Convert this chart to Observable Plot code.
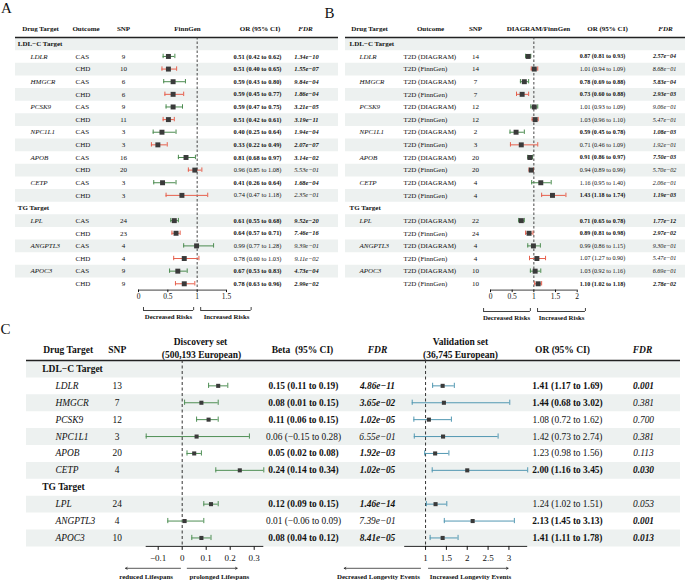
<!DOCTYPE html>
<html><head><meta charset="utf-8">
<script src="https://cdn.jsdelivr.net/npm/d3@7"></script>
<script src="https://cdn.jsdelivr.net/npm/@observablehq/plot@0.6"></script>
<style>
html,body{margin:0;padding:0;background:#fff;}
#wrap{position:relative;width:685px;height:581px;overflow:hidden;background:#fff;}
#wrap svg{position:absolute;left:0;top:0;background:transparent !important;}
</style></head><body><div id="wrap"></div>
<script>
// ---------- shared categories ----------
const groupLabels = ["LDL−C Target", "TG Target"];
const ldlGenes = ["LDLR", "HMGCR", "PCSK9", "NPC1L1", "APOB", "CETP"];
const tgGenes = ["LPL", "ANGPTL3", "APOC3"];

// ---------- Panel A (FinnGen) ----------
const aOutcomes = ["CAS", "CHD"];
const aSnp = [9, 10, 6, 6, 9, 11, 3, 3, 16, 20, 3, 3, 24, 23, 4, 4, 9, 9];
const aOR  = [0.51, 0.51, 0.59, 0.59, 0.59, 0.51, 0.40, 0.33, 0.81, 0.96, 0.41, 0.74, 0.61, 0.64, 0.99, 0.78, 0.67, 0.78];
const aLo  = [0.42, 0.40, 0.43, 0.45, 0.47, 0.42, 0.25, 0.22, 0.68, 0.85, 0.26, 0.47, 0.55, 0.57, 0.77, 0.60, 0.53, 0.63];
const aHi  = [0.62, 0.65, 0.80, 0.77, 0.75, 0.61, 0.64, 0.49, 0.97, 1.08, 0.64, 1.18, 0.68, 0.71, 1.28, 1.03, 0.83, 0.96];
const aFdr = ["1.34e−10","1.55e−07","9.84e−04","1.86e−04","3.21e−05","3.19e−11","1.94e−04","2.07e−07","3.14e−02","5.53e−01","1.68e−04","2.35e−01","9.52e−20","7.46e−16","9.39e−01","9.11e−02","4.73e−04","2.99e−02"];
const aTicks = [0, 0.5, 1, 1.5];

// ---------- Panel B (DIAGRAM / FinnGen) ----------
const bOutcomes = ["T2D (DIAGRAM)", "T2D (FinnGen)"];
const bSnp = [14, 14, 7, 7, 12, 12, 2, 3, 20, 20, 4, 4, 22, 24, 4, 4, 10, 10];
const bOR  = [0.87, 1.01, 0.78, 0.73, 1.01, 1.03, 0.59, 0.71, 0.91, 0.94, 1.16, 1.43, 0.71, 0.89, 0.99, 1.07, 1.03, 1.10];
const bLo  = [0.81, 0.94, 0.69, 0.60, 0.93, 0.96, 0.45, 0.46, 0.86, 0.89, 0.95, 1.18, 0.65, 0.81, 0.86, 1.27, 0.92, 1.02];
const bHi  = [0.93, 1.09, 0.88, 0.88, 1.09, 1.10, 0.78, 1.09, 0.97, 0.99, 1.40, 1.74, 0.78, 0.98, 1.15, 0.90, 1.16, 1.18];
const bFdr = ["2.57e−04","8.68e−01","5.83e−04","2.93e−03","9.06e−01","5.47e−01","1.08e−03","1.92e−01","7.50e−03","5.70e−02","2.06e−01","1.19e−03","1.77e−12","2.97e−02","9.30e−01","5.47e−01","6.69e−01","2.78e−02"];
const bTicks = [0, 0.5, 1, 1.5, 2];

// ---------- Panel C (lifespan) ----------
const cSnp = [13, 7, 12, 3, 20, 4, 24, 4, 10];
const cBeta   = [0.15, 0.08, 0.11, 0.06, 0.05, 0.24, 0.12, 0.01, 0.08];
const cBetaLo = [0.11, 0.01, 0.06, -0.15, 0.02, 0.14, 0.09, -0.06, 0.04];
const cBetaHi = [0.19, 0.15, 0.15, 0.28, 0.08, 0.34, 0.15, 0.09, 0.12];
const cBetaFdr = ["4.86e−11","3.65e−02","1.02e−05","6.55e−01","1.92e−03","1.02e−05","1.46e−14","7.39e−01","8.41e−05"];
const cOR   = [1.41, 1.44, 1.08, 1.42, 1.23, 2.00, 1.24, 2.13, 1.41];
const cORLo = [1.17, 0.68, 0.72, 0.73, 0.98, 1.16, 1.02, 1.45, 1.11];
const cORHi = [1.69, 3.02, 1.62, 2.74, 1.56, 3.45, 1.51, 3.13, 1.78];
const cORFdr = ["0.001","0.381","0.700","0.381","0.113","0.030","0.053","0.001","0.013"];
const cORBold = [true, true, false, false, false, true, false, true, true];
const cTicksD = [-0.1, 0, 0.1, 0.2, 0.3];
const cTicksV = [1, 1.5, 2, 2.5, 3];

const riskText = ["Decreased Risks", "Increased Risks"];
const lifeText = ["reduced Lifespans", "prolonged Lifespans"];
const longText = ["Decreased Longevity Events", "Increased Longevity Events"];

// ---------- helpers ----------
const W = 685, H = 581;
const serif = '"Liberation Serif", "Times New Roman", serif';
const stripe = "#edf1f0", ink = "#111", boxFill = "#3a3a3a";
const green = "#4b8b4f", red = "#e6604d", teal = "#5298b2";
const fmt2 = d3.format(".2f");
const isSig = s => +s.replace("−", "-") < 0.05;

function buildTable(outcomes, snp, est, lo, hi, fdr) {
  const heads = [], rows = [];
  let r = 0, k = 0;
  [ldlGenes, tgGenes].forEach((genes, g) => {
    heads.push({row: r++, label: groupLabels[g]});
    genes.forEach(gene => outcomes.forEach((o, j) => {
      rows.push({row: r++, k, gene: j === 0 ? gene : "", outcome: o, series: j,
        snp: snp[k], est: est[k], lo: lo[k], hi: hi[k], fdr: fdr[k],
        ci: `${fmt2(est[k])} (${fmt2(lo[k])} to ${fmt2(hi[k])})`, sig: isSig(fdr[k])});
      k++;
    }));
  });
  return {heads, rows, n: r};
}

function forest(rows, color, capRows, r, ex = "est", lx = "lo", hx = "hi") {
  return [
    Plot.ruleY(rows, {y: "row", x1: lx, x2: hx, stroke: color, strokeWidth: 1}),
    Plot.ruleX(rows, {x: lx, y1: d => d.row - capRows, y2: d => d.row + capRows, stroke: color, strokeWidth: 1}),
    Plot.ruleX(rows, {x: hx, y1: d => d.row - capRows, y2: d => d.row + capRows, stroke: color, strokeWidth: 1}),
    Plot.dot(rows, {x: ex, y: "row", symbol: "square", r, fill: boxFill, stroke: "none"})
  ];
}

function frameFor(L, n) {
  const ML = L.left, MR = W - L.right, MT = L.top, bottom = L.top + n * L.step, MB = H - bottom;
  const col = (x, o) => ({frameAnchor: "left", dx: x - ML, lineAnchor: "middle", fill: ink, ...o});
  const hdr = (label, x, y, o = {}) => Plot.text([label], {frameAnchor: "top-left", dx: x - ML, dy: y - MT,
    text: d => d, lineAnchor: "middle", textAnchor: "middle", fontWeight: "bold", fontSize: L.fsh, fill: ink, ...o});
  const pxRow = px => (px - (L.top + L.step / 2)) / L.step;
  return {ML, MR, MT, MB, bottom, col, hdr, pxRow};
}

// ---------- Panels A and B ----------
function abPanel(t, L) {
  const F = frameFor(L, t.n);
  const even = d3.range(0, t.n, 2);
  const yB = F.pxRow(L.bracketY);
  const ends = L.riskSpans.flat();
  const marks = [
    Plot.ruleY(even, {y: d => d, stroke: stripe, strokeWidth: L.step}),
    Plot.ruleY([-0.5], {stroke: "#222", strokeWidth: 1.3}),
    Plot.ruleY([t.n - 0.5], {x1: () => L.xDomain[0], x2: () => L.xDomain[1], stroke: ink, strokeWidth: 0.8}),
    Plot.ruleX([1], {stroke: "#333", strokeDasharray: "2.5,2", strokeWidth: 0.9}),
    Plot.text([L.letter], {frameAnchor: "top-left", dx: L.letterX - F.ML, dy: L.letterY - F.MT, text: d => d,
      textAnchor: "middle", lineAnchor: "middle", fontSize: 15, fill: ink}),
    F.hdr("Drug Target", L.cols.targetH, L.headY),
    F.hdr("Outcome", L.cols.outH, L.headY),
    F.hdr("SNP", L.cols.snp, L.headY),
    F.hdr(L.forestTitle, L.cols.forestH, L.headY),
    F.hdr("OR (95% CI)", L.cols.ciH, L.headY),
    F.hdr("FDR", L.cols.fdrH, L.headY, {fontStyle: "italic"}),
    Plot.text(t.heads, F.col(L.cols.group, {y: "row", text: "label", textAnchor: "start", fontWeight: "bold", fontSize: L.fsh})),
    Plot.text(t.rows.filter(d => d.gene), F.col(L.cols.gene, {y: "row", text: "gene", textAnchor: "start", fontStyle: "italic", fontSize: L.fs})),
    Plot.text(t.rows, F.col(L.cols.out, {y: "row", text: "outcome", textAnchor: "start", fontSize: L.fs})),
    Plot.text(t.rows, F.col(L.cols.snp, {y: "row", text: "snp", textAnchor: "middle", fontSize: L.fs})),
    Plot.text(t.rows.filter(d => d.sig), F.col(L.cols.ci, {y: "row", text: "ci", textAnchor: "middle", fontWeight: "bold", fontSize: L.fsv})),
    Plot.text(t.rows.filter(d => !d.sig), F.col(L.cols.ci, {y: "row", text: "ci", textAnchor: "middle", fontSize: L.fsv})),
    Plot.text(t.rows.filter(d => d.sig), F.col(L.cols.fdr, {y: "row", text: "fdr", textAnchor: "middle", fontWeight: "bold", fontStyle: "italic", fontSize: L.fsv})),
    Plot.text(t.rows.filter(d => !d.sig), F.col(L.cols.fdr, {y: "row", text: "fdr", textAnchor: "middle", fontStyle: "italic", fontSize: L.fsv})),
    ...forest(t.rows.filter(d => d.series === 0), L.colors[0], 2.2 / L.step, 2.8),
    ...forest(t.rows.filter(d => d.series === 1), L.colors[1], 2.2 / L.step, 2.8),
    Plot.ruleY(L.riskSpans, {x1: d => d[0], x2: d => d[1], y: () => yB, stroke: ink, strokeWidth: 0.8}),
    Plot.ruleX(ends, {x: d => d, y1: () => yB, y2: () => yB - 3 / L.step, stroke: ink, strokeWidth: 0.8}),
    Plot.text(riskText, {x: (d, i) => L.riskCenters[i], frameAnchor: "bottom", dy: L.riskTextY - F.bottom, text: d => d,
      textAnchor: "middle", lineAnchor: "middle", fontWeight: "bold", fontSize: 6.8, fill: ink})
  ];
  return Plot.plot({
    width: W, height: H, marginLeft: F.ML, marginRight: F.MR, marginTop: F.MT, marginBottom: F.MB,
    style: {fontFamily: serif, fontSize: "7.5px", background: "transparent", color: ink, overflow: "visible"},
    x: {domain: L.xDomain, range: L.xRange, ticks: L.ticks, tickSize: 2.5, tickPadding: 1.5, tickFormat: d3.format("~g"), label: null},
    y: {domain: [-0.5, t.n - 0.5], range: [F.MT, F.bottom], axis: null},
    marks
  });
}

const tA = buildTable(aOutcomes, aSnp, aOR, aLo, aHi, aFdr);
const tB = buildTable(bOutcomes, bSnp, bOR, bLo, bHi, bFdr);

const layoutA = {
  letter: "A", letterX: 6, letterY: 8,
  left: 15, right: 338, top: 37, step: 12.63, headY: 28.3, fs: 7, fsv: 6.4, fsh: 7,
  xDomain: [0, 1.5], xRange: [138, 226], ticks: aTicks, forestTitle: "FinnGen",
  cols: {targetH: 40, group: 17.3, gene: 30, outH: 85.5, out: 75, snp: 123, forestH: 187, ciH: 259.5, ci: 257, fdrH: 305, fdr: 306},
  colors: [green, red],
  bracketY: 310, riskTextY: 316.3, riskSpans: [[0.085, 0.94], [1.06, 1.92]], riskCenters: [0.51, 1.5]
};
const layoutB = {
  letter: "B", letterX: 329, letterY: 13,
  left: 345, right: 685, top: 37, step: 12.63, headY: 27.8, fs: 7, fsv: 6.1, fsh: 7,
  xDomain: [0, 2], xRange: [490, 576.7], ticks: bTicks, forestTitle: "DIAGRAM/FinnGen",
  cols: {targetH: 369, group: 349, gene: 359, outH: 430, out: 403, snp: 475, forestH: 538, ciH: 607, ci: 602, fdrH: 665, fdr: 664},
  colors: [green, red],
  bracketY: 311, riskTextY: 317, riskSpans: [[-0.16, 0.92], [1.085, 2.19]], riskCenters: [0.37, 1.64]
};

// ---------- Panel C ----------
const tC = buildTable([""], cSnp, cBeta, cBetaLo, cBetaHi, cBetaFdr);
tC.rows.forEach(d => {
  const k = d.k;
  d.vor = cOR[k]; d.vlo = cORLo[k]; d.vhi = cORHi[k]; d.vfdr = cORFdr[k];
  d.vci = `${fmt2(cOR[k])} (${fmt2(cORLo[k])} to ${fmt2(cORHi[k])})`;
  d.vciBold = cORBold[k]; d.vsig = isSig(cORFdr[k]);
});

const LC = {left: 26, right: 680, top: 360, step: 16.9, fs: 9.4, fsh: 9.5};
const FC = frameFor(LC, tC.n);
const cStyle = {fontFamily: serif, fontSize: "9px", background: "transparent", color: ink, overflow: "visible"};
const capC = 2.6 / LC.step;
const yArrow = FC.pxRow(567.8);
const arrowDy = 575.8 - FC.bottom;

const discSpans = [[-0.007, -0.236], [0.021, 0.229]], discCenters = [-0.15, 0.155];
const valSpans = [[0.88, -0.95], [1.07, 2.98]], valCenters = [-0.13, 2.08];
const xDomD = [-0.15, 0.34], xDomV = [0.5, 3.45];

const plotC1 = Plot.plot({
  width: W, height: H, marginLeft: FC.ML, marginRight: FC.MR, marginTop: FC.MT, marginBottom: FC.MB,
  style: cStyle,
  x: {domain: xDomD, range: [145.7, 263.3], ticks: cTicksD, tickSize: 4, tickPadding: 4, tickFormat: d3.format("~g"), label: null},
  y: {domain: [-0.5, tC.n - 0.5], range: [FC.MT, FC.bottom], axis: null},
  marks: [
    Plot.ruleY(d3.range(0, tC.n, 2), {y: d => d, stroke: stripe, strokeWidth: LC.step}),
    Plot.ruleY([-0.5], {stroke: "#222", strokeWidth: 1.5}),
    Plot.ruleY([tC.n - 0.5], {x1: () => xDomD[0], x2: () => xDomD[1], stroke: ink, strokeWidth: 0.9}),
    Plot.ruleX([0], {stroke: "#333", strokeDasharray: "3,2.5", strokeWidth: 1}),
    Plot.text(["C"], {frameAnchor: "top-left", dx: 5 - FC.ML, dy: 329 - FC.MT, text: d => d, textAnchor: "middle", lineAnchor: "middle", fontSize: 15, fill: ink}),
    FC.hdr("Drug Target", 67.7, 349),
    FC.hdr("SNP", 116.7, 349),
    FC.hdr("Discovery set", 200, 341.5),
    FC.hdr("(500,193 European)", 201, 354.5),
    FC.hdr("Beta  (95% CI)", 302, 349.5),
    FC.hdr("FDR", 377, 349.5, {fontStyle: "italic"}),
    Plot.text(tC.heads, FC.col(41.7, {y: "row", text: "label", textAnchor: "start", fontWeight: "bold", fontSize: LC.fsh})),
    Plot.text(tC.rows, FC.col(55, {y: "row", text: "gene", textAnchor: "start", fontStyle: "italic", fontSize: LC.fs})),
    Plot.text(tC.rows, FC.col(116.7, {y: "row", text: "snp", textAnchor: "middle", fontSize: LC.fs})),
    Plot.text(tC.rows.filter(d => d.sig), FC.col(303, {y: "row", text: "ci", textAnchor: "middle", fontWeight: "bold", fontSize: LC.fs})),
    Plot.text(tC.rows.filter(d => !d.sig), FC.col(303, {y: "row", text: "ci", textAnchor: "middle", fontSize: LC.fs})),
    Plot.text(tC.rows.filter(d => d.sig), FC.col(377, {y: "row", text: "fdr", textAnchor: "middle", fontWeight: "bold", fontStyle: "italic", fontSize: LC.fs})),
    Plot.text(tC.rows.filter(d => !d.sig), FC.col(377, {y: "row", text: "fdr", textAnchor: "middle", fontStyle: "italic", fontSize: LC.fs})),
    ...forest(tC.rows, "#4f8f55", capC, 2.3),
    Plot.arrow(discSpans, {x1: d => d[0], x2: d => d[1], y1: () => yArrow, y2: () => yArrow, stroke: ink, strokeWidth: 0.7, headLength: 4}),
    Plot.text(lifeText, {x: (d, i) => discCenters[i], frameAnchor: "bottom", dy: arrowDy, text: d => d,
      textAnchor: "middle", lineAnchor: "middle", fontWeight: "bold", fontSize: 6.9, fill: ink})
  ]
});

const plotC2 = Plot.plot({
  width: W, height: H, marginLeft: FC.ML, marginRight: FC.MR, marginTop: FC.MT, marginBottom: FC.MB,
  style: cStyle,
  x: {domain: xDomV, range: [404.2, 527.2], ticks: cTicksV, tickSize: 4, tickPadding: 4, tickFormat: d3.format("~g"), label: null},
  y: {domain: [-0.5, tC.n - 0.5], range: [FC.MT, FC.bottom], axis: null},
  marks: [
    Plot.ruleY([tC.n - 0.5], {x1: () => xDomV[0], x2: () => xDomV[1], stroke: ink, strokeWidth: 0.9}),
    Plot.ruleX([1], {stroke: "#333", strokeDasharray: "3,2.5", strokeWidth: 1}),
    FC.hdr("Validation set", 460, 341.5),
    FC.hdr("(36,745 European)", 460, 354.5),
    FC.hdr("OR (95% CI)", 562, 349.5),
    FC.hdr("FDR", 642, 349.5, {fontStyle: "italic"}),
    Plot.text(tC.rows.filter(d => d.vciBold), FC.col(567, {y: "row", text: "vci", textAnchor: "middle", fontWeight: "bold", fontSize: LC.fs})),
    Plot.text(tC.rows.filter(d => !d.vciBold), FC.col(567, {y: "row", text: "vci", textAnchor: "middle", fontSize: LC.fs})),
    Plot.text(tC.rows.filter(d => d.vsig), FC.col(643, {y: "row", text: "vfdr", textAnchor: "middle", fontWeight: "bold", fontStyle: "italic", fontSize: LC.fs})),
    Plot.text(tC.rows.filter(d => !d.vsig), FC.col(643, {y: "row", text: "vfdr", textAnchor: "middle", fontStyle: "italic", fontSize: LC.fs})),
    ...forest(tC.rows, teal, capC, 2.3, "vor", "vlo", "vhi"),
    Plot.arrow(valSpans, {x1: d => d[0], x2: d => d[1], y1: () => yArrow, y2: () => yArrow, stroke: ink, strokeWidth: 0.7, headLength: 4}),
    Plot.text(longText, {x: (d, i) => valCenters[i], frameAnchor: "bottom", dy: arrowDy, text: d => d,
      textAnchor: "middle", lineAnchor: "middle", fontWeight: "bold", fontSize: 6.9, fill: ink})
  ]
});

const wrap = document.getElementById("wrap");
wrap.append(abPanel(tA, layoutA), abPanel(tB, layoutB), plotC1, plotC2);
</script>
</body></html>
